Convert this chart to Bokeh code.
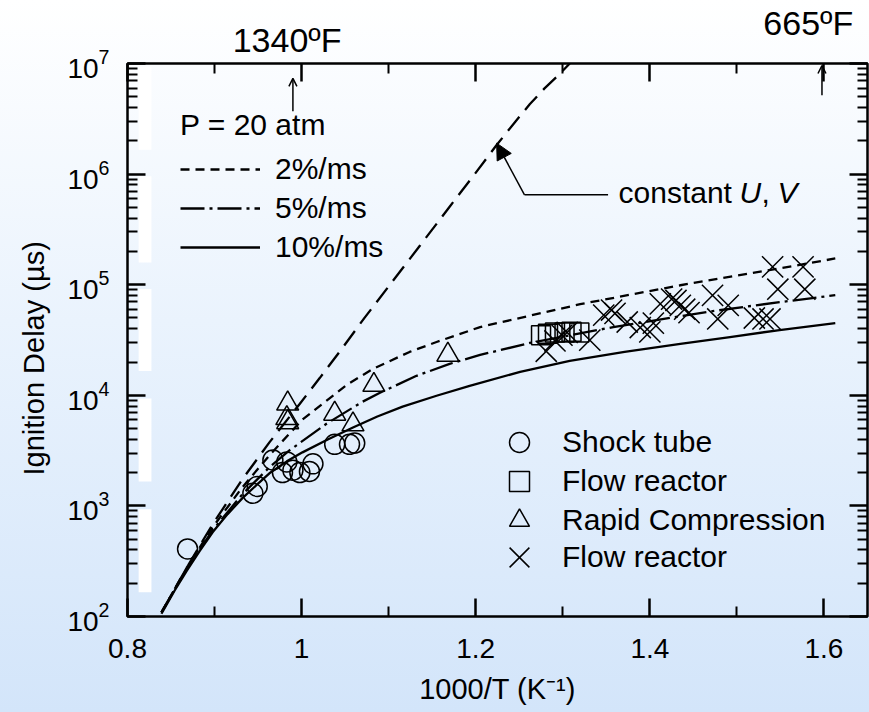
from bokeh.plotting import figure
from bokeh.models import (Range1d, LinearAxis, LogAxis, FixedTicker, CustomJSTickFormatter,
                          Legend, LegendItem, Label, Arrow, NormalHead, OpenHead, Title)
from bokeh.embed import file_html
from bokeh.resources import INLINE

FONT = "Liberation Sans"

# Model curves: ignition delay (µs) against 1000/T (1/K)
x_2pct = [0.839, 0.868, 0.898, 0.932, 0.963, 1.001, 1.052, 1.082, 1.124, 1.155, 1.205,
          1.320, 1.435, 1.549, 1.613]
tau_2pct = [109, 276, 644, 1476, 2864, 6039, 12450, 17340, 24660, 30340, 41400,
            66680, 98860, 140300, 172600]

x_5pct = [0.839, 0.868, 0.898, 0.932, 0.963, 0.986, 1.029, 1.070, 1.090, 1.132, 1.170,
          1.205, 1.262, 1.358, 1.472, 1.549, 1.613]
tau_5pct = [109, 270, 605, 1276, 2234, 3177, 5559, 8750, 10540, 15000, 19230,
            23170, 29720, 41400, 57680, 69500, 80350]

x_10pct = [0.839, 0.854, 0.868, 0.883, 0.898, 0.915, 0.932, 0.948, 0.963, 0.983, 1.001, 1.030,
           1.059, 1.087, 1.116, 1.155, 1.193, 1.251, 1.308, 1.371, 1.435, 1.492, 1.549, 1.613]
tau_10pct = [106, 171, 259, 393, 581, 843, 1175, 1538, 1972, 2529, 3048, 3990,
             5117, 6427, 7889, 9908, 12190, 16290, 20460, 24660, 29110, 33650, 38900, 44980]

x_const_uv = [0.839, 0.868, 0.898, 0.932, 0.963, 0.998, 1.021, 1.046, 1.072, 1.101, 1.136,
              1.170, 1.199, 1.224, 1.245, 1.262, 1.279, 1.297, 1.308]
tau_const_uv = [109, 276, 686, 1742, 3750, 8400, 14390, 26240, 49890, 98860, 226000,
                507000, 1004000, 1832000, 2946000, 4276000, 5957000, 8128000, 10000000]

# Measurements
shock_x = [0.869, 0.944, 0.949, 0.967, 0.978, 0.983, 0.990, 0.998, 1.009, 1.013, 1.038, 1.055, 1.061]
shock_tau = [408, 1300, 1500, 2600, 2000, 2500, 2100, 2000, 2050, 2400, 3600, 3600, 3700]

flow_sq_x = [1.275, 1.283, 1.291, 1.302, 1.310, 1.319]
flow_sq_tau = [35000, 36000, 37000, 37000, 37500, 37000]

rcm_x = [0.984, 0.983, 0.984, 1.038, 1.059, 1.083, 1.168]
rcm_tau = [8400, 6200, 5700, 6800, 5450, 12400, 23200]

flow_x_x = [1.281, 1.291, 1.299, 1.305, 1.331, 1.347, 1.356, 1.360, 1.374, 1.389, 1.400, 1.404,
            1.412, 1.425, 1.430, 1.435, 1.440, 1.445, 1.472, 1.478, 1.490, 1.520, 1.530, 1.538,
            1.541, 1.547, 1.576, 1.578]
flow_x_tau = [25000, 31000, 35000, 37000, 31500, 53000, 59000, 55000, 46000, 41000, 37500, 45000,
              67000, 74000, 72000, 65000, 60000, 56000, 80000, 49000, 65000, 50000, 49000, 49000,
              145000, 91000, 145000, 91000]

x_ticks = [0.8, 1.0, 1.2, 1.4, 1.6]
x_minor = [0.9, 1.1, 1.3, 1.5]
y_ticks = [1e2, 1e3, 1e4, 1e5, 1e6, 1e7]
y_minor = [m * 10 ** e for e in range(2, 7) for m in range(2, 10)]

# temperatures marked along the top edge (1000/T positions of the labels)
temp_labels = ["1340\u00baF", "665\u00baF"]
temp_label_x = [0.9833, 1.582]

p = figure(width=869, height=712, x_range=Range1d(0.8, 1.65), y_range=Range1d(1e2, 1e7),
           y_axis_type="log", output_backend="svg", toolbar_location=None,
           min_border_left=127, min_border_right=2, min_border_top=60, min_border_bottom=96,
           x_axis_label="1000/T (K\u207b\u00b9)")

p.background_fill_color = None
p.border_fill_color = None
p.outline_line_color = "black"
p.outline_line_width = 2.5
p.grid.visible = False
p.styles = {"background": "linear-gradient(to bottom, #ffffff 0%, #eaf3fd 45%, #d3e5fa 100%)"}

# white strips beside the left axis
strip_bottom = [10 ** 2.22, 10 ** 3.22, 10 ** 4.22, 10 ** 5.2, 10 ** 6.22]
strip_top = [10 ** 2.97, 10 ** 3.97, 10 ** 4.96, 10 ** 5.98, 10 ** 6.97]
p.quad(left=0.8128, right=0.8275, bottom=strip_bottom, top=strip_top,
       fill_color="white", line_color=None)

def style_axis(ax, labels=True):
    ax.axis_line_color = None
    ax.major_tick_in = 18
    ax.major_tick_out = 0
    ax.minor_tick_in = 10
    ax.minor_tick_out = 0
    ax.major_tick_line_width = 2.5
    ax.minor_tick_line_width = 2
    ax.major_tick_line_color = "black"
    ax.minor_tick_line_color = "black"
    ax.major_label_text_font = FONT
    ax.major_label_text_font_size = "28px"
    ax.major_label_text_color = "black"
    ax.axis_label_text_font = FONT
    ax.axis_label_text_font_size = "29px"
    ax.axis_label_text_font_style = "normal"
    ax.axis_label_text_color = "black"
    if not labels:
        ax.formatter = CustomJSTickFormatter(code="return ''")
        ax.major_label_standoff = 0
        ax.major_label_text_font_size = "0px"

xfmt = CustomJSTickFormatter(code="return Math.abs(tick - 1) < 1e-9 ? '1' : tick.toFixed(1)")
p.xaxis.ticker = FixedTicker(ticks=x_ticks, minor_ticks=x_minor)
p.xaxis.formatter = xfmt
p.yaxis.ticker = FixedTicker(ticks=y_ticks, minor_ticks=y_minor)
for ax in p.xaxis + p.yaxis:
    style_axis(ax)
p.xaxis.major_label_standoff = 22
p.xaxis.axis_label_standoff = 12
p.yaxis.major_label_standoff = 18

# vertical axis title, placed beside the tick labels
p.add_layout(Title(text="Ignition Delay (\u00b5s)", align="left", offset=141, standoff=30,
                   text_font=FONT, text_font_size="29px", text_font_style="normal",
                   text_color="black"), "left")

top_ax = LinearAxis(ticker=FixedTicker(ticks=x_ticks, minor_ticks=x_minor))
right_ax = LogAxis(ticker=FixedTicker(ticks=y_ticks, minor_ticks=y_minor))
style_axis(top_ax, labels=False)
style_axis(right_ax, labels=False)
p.add_layout(top_ax, "above")
p.add_layout(right_ax, "right")

# the two temperature labels sit on tick-less axes stacked above the frame
for i, standoff in ((0, 5), (1, -24)):
    t_ax = LinearAxis(ticker=FixedTicker(ticks=[temp_label_x[i]], minor_ticks=[]),
                      formatter=CustomJSTickFormatter(code="return %r" % temp_labels[i]))
    t_ax.axis_line_color = None
    t_ax.major_tick_line_color = None
    t_ax.major_tick_in = 0
    t_ax.major_tick_out = 0
    t_ax.minor_tick_line_color = None
    t_ax.major_label_standoff = standoff
    t_ax.major_label_text_font = FONT
    t_ax.major_label_text_font_size = "34px"
    t_ax.major_label_text_color = "black"
    p.add_layout(t_ax, "above")

LW = 2.3
r2 = p.line(x_2pct, tau_2pct, line_color="black", line_width=LW, line_dash="9 6")
r5 = p.line(x_5pct, tau_5pct, line_color="black", line_width=LW, line_dash="24 5 3 5")
r10 = p.line(x_10pct, tau_10pct, line_color="black", line_width=LW)
p.line(x_const_uv, tau_const_uv, line_color="black", line_width=LW, line_dash="18 9")

MS = 20
rs = p.scatter(shock_x, shock_tau, marker="circle", size=MS, fill_color=None,
               line_color="black", line_width=1.5)
rf = p.scatter(flow_sq_x, flow_sq_tau, marker="square", size=MS - 1, fill_color=None,
               line_color="black", line_width=1.5)
rr = p.scatter(rcm_x, rcm_tau, marker="triangle", size=MS + 2, fill_color=None,
               line_color="black", line_width=1.5)
rx = p.scatter(flow_x_x, flow_x_tau, marker="x", size=30, fill_color=None,
               line_color="black", line_width=1.5)

def style_legend(lg):
    lg.padding = 0
    lg.margin = 0
    lg.border_line_color = None
    lg.background_fill_alpha = 0
    lg.label_text_font = FONT
    lg.label_text_font_size = "30px"
    lg.label_text_color = "black"
    lg.title_text_font = FONT
    lg.title_text_font_size = "30px"
    lg.title_text_font_style = "normal"
    lg.title_text_color = "black"

leg_lines = Legend(items=[LegendItem(label="2%/ms", renderers=[r2]),
                          LegendItem(label="5%/ms", renderers=[r5]),
                          LegendItem(label="10%/ms", renderers=[r10])],
                   title="P = 20 atm", location=(53, 352))
style_legend(leg_lines)
leg_lines.glyph_width = 80
leg_lines.glyph_height = 30
leg_lines.label_standoff = 15
leg_lines.spacing = 5
leg_lines.title_standoff = 10
p.add_layout(leg_lines, "center")

# one single-row legend per measurement type
for label, rend, box, loc in (("Shock tube", rs, 50, (367, 149)),
                              ("Flow reactor", rf, 50, (367, 110)),
                              ("Rapid Compression", rr, 50, (367, 71)),
                              ("Flow reactor", rx, 70, (357, 24))):
    lg = Legend(items=[LegendItem(label=label, renderers=[rend])], location=loc)
    style_legend(lg)
    lg.glyph_width = box
    lg.glyph_height = box
    lg.label_standoff = 43 - box // 2
    p.add_layout(lg, "center")

# annotation for the constant-volume curve
p.add_layout(Arrow(end=None, x_start=1.352, y_start=10 ** 5.813, x_end=1.256, y_end=10 ** 5.813,
                   line_color="black", line_width=1.5))
p.add_layout(Arrow(end=NormalHead(size=16, fill_color="black", line_color="black", line_width=1),
                   x_start=1.256, y_start=10 ** 5.813, x_end=1.224, y_end=10 ** 6.28,
                   line_color="black", line_width=1.5))
lab_kw = dict(text_font=FONT, text_font_size="30px", text_color="black", text_baseline="middle")
p.add_layout(Label(x=1.364, y=10 ** 5.83, text="constant ", **lab_kw))
p.add_layout(Label(x=1.364, y=10 ** 5.83, x_offset=121, text="U", text_font_style="italic", **lab_kw))
p.add_layout(Label(x=1.364, y=10 ** 5.83, x_offset=143, text=",", **lab_kw))
p.add_layout(Label(x=1.364, y=10 ** 5.83, x_offset=159, text="V", text_font_style="italic", **lab_kw))

# arrows pointing to the marked temperatures
p.add_layout(Arrow(end=OpenHead(size=8, line_width=1.5), x_start=0.99, y_start=10 ** 6.568,
                   x_end=0.99, y_end=10 ** 6.865, line_color="black", line_width=1.5))
p.add_layout(Arrow(end=OpenHead(size=8, line_width=1.5), x_start=1.5977, y_start=10 ** 6.712,
                   x_end=1.5977, y_end=10 ** 6.982, line_color="black", line_width=1.5))

open("out.html", "w").write(file_html(p, INLINE))
